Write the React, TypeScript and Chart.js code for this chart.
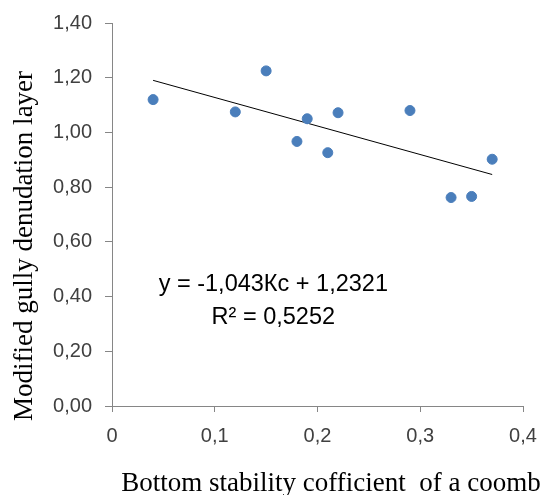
import React, { useEffect, useRef } from "react";
import { Chart, registerables } from "chart.js";

Chart.register(...registerables);

const xValues = [0.04, 0.12, 0.15, 0.18, 0.19, 0.21, 0.22, 0.29, 0.33, 0.35, 0.37];
const yValues = [1.12, 1.075, 1.225, 0.967, 1.05, 0.926, 1.072, 1.08, 0.762, 0.766, 0.902];
const trendSlope = -1.043;
const trendIntercept = 1.2321;
const equationLines = ["y = -1,043Кс + 1,2321", "R² = 0,5252"];
const xTitle = "Bottom stability cofficient  of a coomb";
const yTitle = "Modified gully denudation layer";

const sans = "'Liberation Sans', Arial, sans-serif";
const serif = "'Liberation Serif', 'Times New Roman', serif";

export default function App() {
  const ref = useRef<HTMLCanvasElement | null>(null);
  useEffect(() => {
    if (!ref.current) return;
    const xMin = Math.min(...xValues);
    const xMax = Math.max(...xValues);
    const trend = [
      { x: xMin, y: trendSlope * xMin + trendIntercept },
      { x: xMax, y: trendSlope * xMax + trendIntercept },
    ];
    const textPlugin = {
      id: "texts",
      afterDraw(chart: any) {
        const { ctx, scales, chartArea } = chart;
        ctx.save();
        ctx.fillStyle = "#000";
        // equation
        const cx = scales.x.getPixelForValue(0.157);
        const y1 = scales.y.getPixelForValue(0.443);
        ctx.font = `23.5px ${sans}`;
        ctx.textAlign = "center";
        ctx.textBaseline = "middle";
        ctx.fillText(equationLines[0], cx, y1);
        ctx.fillText(equationLines[1], cx, y1 + 33);
        // axis titles
        ctx.font = `27px ${serif}`;
        ctx.textBaseline = "alphabetic";
        ctx.fillText(xTitle, 331, chartArea.bottom + 85);
        ctx.translate(32, 246);
        ctx.rotate(-Math.PI / 2);
        ctx.fillText(yTitle, 0, 0);
        ctx.restore();
      },
    };
    const chart = new Chart(ref.current, {
      type: "scatter",
      data: {
        datasets: [
          {
            type: "scatter",
            data: xValues.map((x, i) => ({ x, y: yValues[i] })),
            backgroundColor: "#4A7EBB",
            borderColor: "#4A7EBB",
            pointRadius: 5,
            pointHoverRadius: 5,
            order: 1,
          },
          {
            type: "line",
            data: trend,
            borderColor: "#000",
            borderWidth: 1,
            pointRadius: 0,
            fill: false,
            order: 2,
          } as any,
        ],
      },
      options: {
        animation: false,
        responsive: false,
        maintainAspectRatio: false,
        layout: { padding: { left: 0, top: 23, right: 19, bottom: 0 } },
        plugins: { legend: { display: false }, tooltip: { enabled: false } },
        scales: {
          x: {
            type: "linear",
            min: 0,
            max: 0.4,
            ticks: {
              stepSize: 0.1,
              color: "#404040",
              font: { family: sans, size: 20 },
              padding: 12,
              maxRotation: 0,
              callback: (v: any) => (v === 0 ? "0" : Number(v).toFixed(1).replace(".", ",")),
            },
            grid: { drawOnChartArea: false, color: "#868686", tickLength: 6 },
            border: { display: true, color: "#868686", width: 1 },
            afterFit: (axis: any) => {
              axis.height = 89;
              axis.paddingLeft = 0;
              axis.paddingRight = 0;
            },
          },
          y: {
            type: "linear",
            min: 0,
            max: 1.4,
            ticks: {
              stepSize: 0.2,
              color: "#404040",
              font: { family: sans, size: 20 },
              padding: 13,
              callback: (v: any) => Number(v).toFixed(2).replace(".", ","),
            },
            grid: { drawOnChartArea: false, color: "#868686", tickLength: 7 },
            border: { display: true, color: "#868686", width: 1 },
            afterFit: (axis: any) => {
              axis.width = 112;
              axis.paddingTop = 0;
              axis.paddingBottom = 0;
            },
          },
        },
      },
      plugins: [textPlugin],
    });
    return () => chart.destroy();
  }, []);
  return (
    <div style={{ position: "absolute", left: 0, top: 0, width: 542, height: 495, background: "#fff" }}>
      <canvas ref={ref} width={542} height={495} style={{ width: 542, height: 495 }} />
    </div>
  );
}
